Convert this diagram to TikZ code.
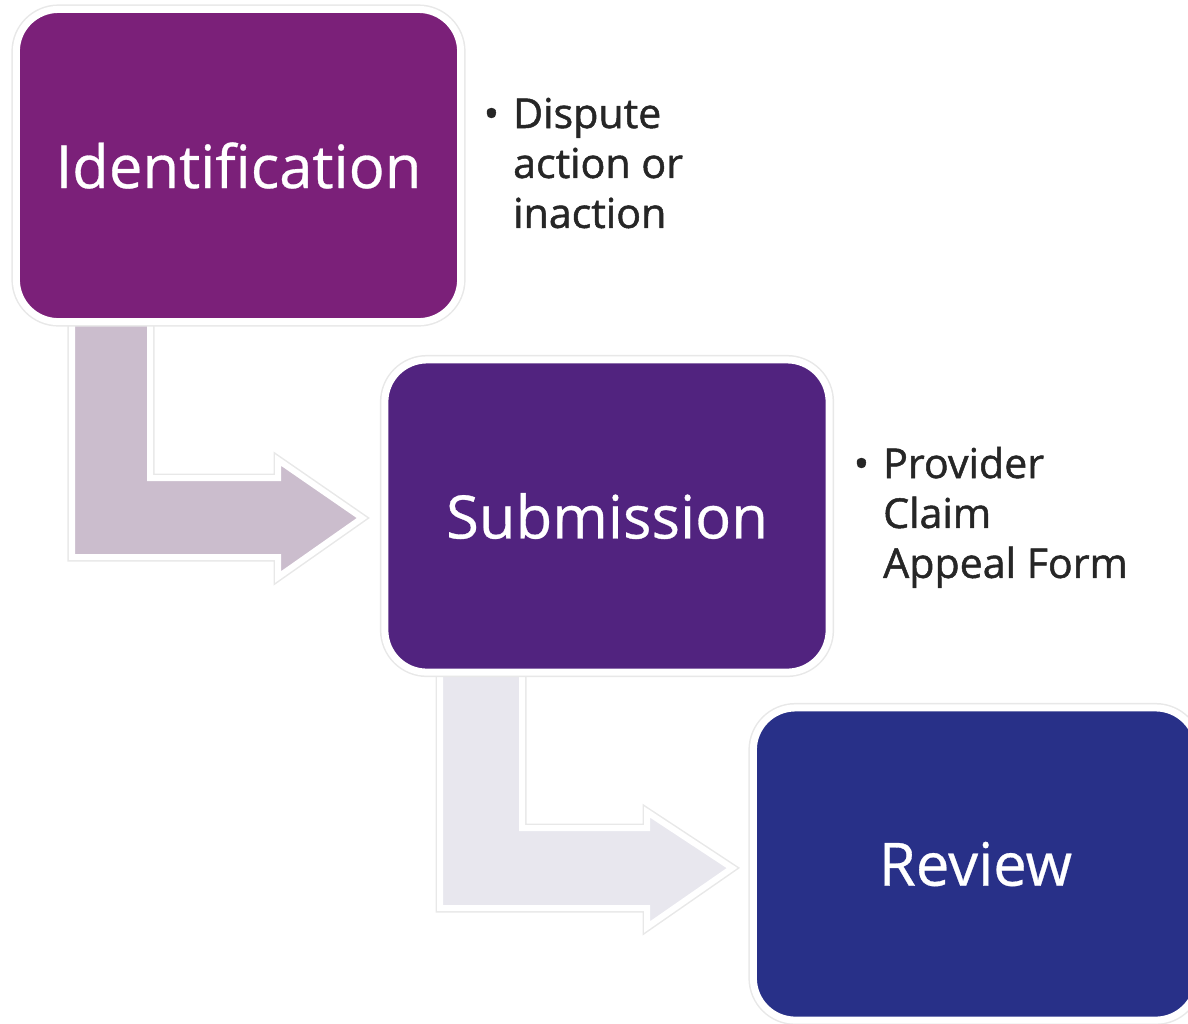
\documentclass[tikz,border=0pt]{standalone}
\usepackage{fontspec}
\setmainfont{Open Sans}
\newfontfamily\notefont[FakeBold=1.2]{Open Sans}
\newfontfamily\stagefont[FakeBold=0.5]{Open Sans}
\definecolor{idpurple}{HTML}{7B2079}
\definecolor{subpurple}{HTML}{51237F}
\definecolor{revblue}{HTML}{283088}
\definecolor{arrowmauve}{HTML}{CBBDCD}
\definecolor{arrowgrey}{HTML}{E8E7EE}
\definecolor{notegrey}{HTML}{262626}
\begin{document}
\begin{tikzpicture}[x=0.01cm,y=-0.01cm,
    stage/.style={draw=white,line width=0.07cm,rounded corners=0.42cm,
      minimum width=4.44cm,minimum height=3.12cm,inner sep=0pt,
      text=white,font=\stagefont\fontsize{17}{20}\selectfont,
      preaction={draw=black!9,line width=0.1cm}},
    bentarrow/.style={fill=#1,draw=white,line width=0.06cm,
      preaction={draw=black!9,line width=0.09cm}},
    note/.style={anchor=base west,inner sep=0pt,text=notegrey,
      font=\notefont\fontsize{11.7}{14.2}\selectfont}]
      \useasboundingbox (0,0) rectangle (1188,1023);

      % bent arrows behind the boxes
      \draw [bentarrow=arrowmauve] (72,300)--(150,300)--(150,478)--(278,478)--(278,460)
        --(362,518)--(278,577)--(278,557)--(72,557)--cycle;
      \draw [bentarrow=arrowgrey] (440,650)--(522,650)--(522,828)--(647,828)--(647,812)
        --(732,868)--(647,927)--(647,908)--(440,908)--cycle;

      \node[stage,fill=idpurple] (Identification) at (238.5,165.5) {Identification};
      \node[stage,fill=subpurple] (Submission) at (607,516) {Submission};
      \node[stage,fill=revblue] (Review) at (975.5,864) {Review};

      \node[note] (IdentNote) at (483,128) {\begin{tabular}[t]{@{}l@{\hspace{0.14cm}}l@{}}
        \textbullet & Dispute\\ & action or\\ & inaction\end{tabular}};
      \node[note] (SubNote) at (853,478) {\begin{tabular}[t]{@{}l@{\hspace{0.14cm}}l@{}}
        \textbullet & Provider\\ & Claim\\ & Appeal Form\end{tabular}};
    \end{tikzpicture}
\end{document}
